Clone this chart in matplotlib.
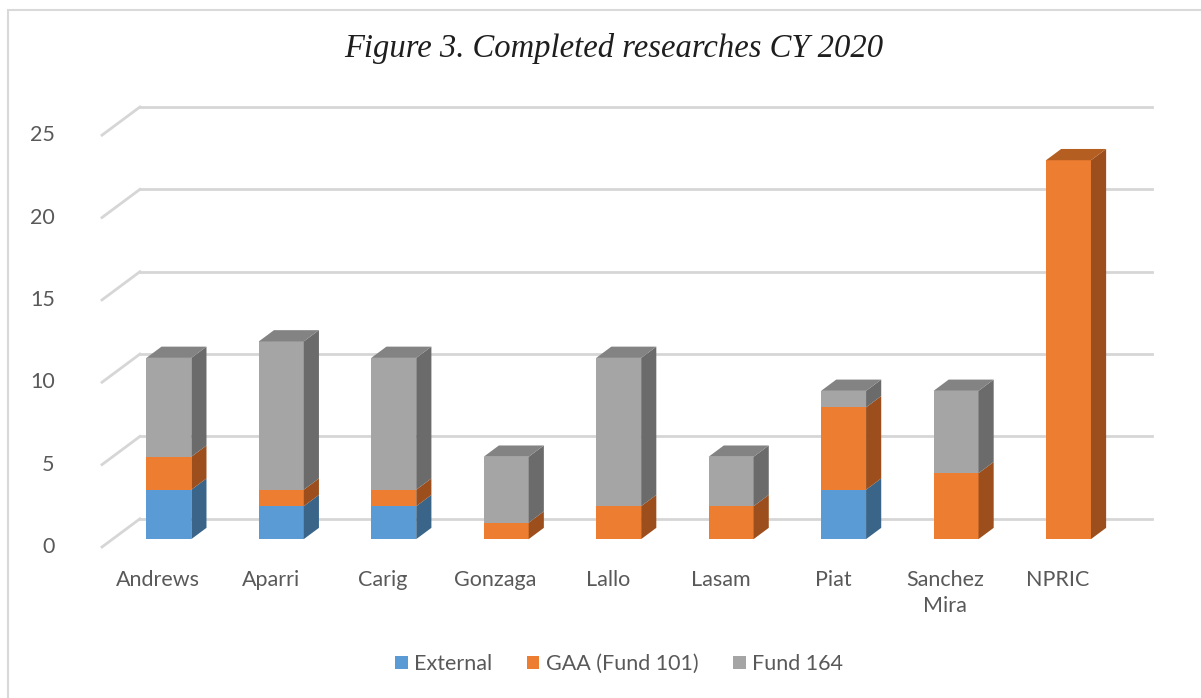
import numpy as np
import matplotlib.pyplot as plt
from matplotlib.patches import Polygon, Rectangle

# data
campuses = ['Andrews', 'Aparri', 'Carig', 'Gonzaga', 'Lallo', 'Lasam', 'Piat',
            'Sanchez\nMira', 'NPRIC']
external = [3, 2, 2, 0, 0, 0, 3, 0, 0]
gaa = [2, 1, 1, 1, 2, 2, 5, 4, 23]
fund164 = [6, 9, 8, 4, 9, 3, 1, 5, 0]
series = [('External', external), ('GAA (Fund 101)', gaa), ('Fund 164', fund164)]

front = ['#5B9BD5', '#ED7D31', '#A5A5A5']
side = ['#3A6589', '#9C4F1D', '#6B6B6B']
top = ['#4A7FB0', '#B45E22', '#838383']

# oblique depth vector (category units, value units)
DX, DY = 0.337, 1.71
f0, f1 = 0.28, 0.68   # bar front / back as fraction of floor depth
width = 0.4
n = len(campuses)

fig = plt.figure(figsize=(12.01, 6.98), dpi=100)
ax = fig.add_axes([102/1201, 1-547/698, (1152-102)/1201, (547-107)/698])
ax.set_xlim(-0.5, n - 0.5 + DX)
ax.set_ylim(0, 25 + DY)
ax.axis('off')

# back wall gridlines + floor diagonals
for v in range(0, 26, 5):
    ax.plot([-0.5 + DX, n - 0.5 + DX], [v + DY, v + DY], color='#d6d6d6', lw=2,
            clip_on=False, zorder=1)
    ax.plot([-0.5, -0.5 + DX], [v, v + DY], color='#d6d6d6', lw=2,
            clip_on=False, zorder=1)
    ax.text(-0.5 - 0.42, v, str(v), ha='right', va='center', fontsize=15.5,
            color='#595959', family='Lato')

ox, oy = f0 * DX, f0 * DY
bx, by = (f1 - f0) * DX, (f1 - f0) * DY
x = np.arange(n)
bottom = np.zeros(n)
totals = np.array(external) + np.array(gaa) + np.array(fund164)
for k, (name, vals) in enumerate(series):
    vals = np.array(vals, dtype=float)
    ax.bar(x + ox, vals, width=width, bottom=bottom + oy, color=front[k],
           zorder=3, label=name)
    for i in range(n):
        if vals[i] == 0:
            continue
        xr = x[i] + ox + width / 2
        xl = x[i] + ox - width / 2
        y0 = bottom[i] + oy
        y1 = y0 + vals[i]
        ax.add_patch(Polygon([(xr, y0), (xr + bx, y0 + by), (xr + bx, y1 + by), (xr, y1)],
                             closed=True, color=side[k], zorder=3, lw=0))
        if bottom[i] + vals[i] == totals[i]:
            ax.add_patch(Polygon([(xl, y1), (xr, y1), (xr + bx, y1 + by), (xl + bx, y1 + by)],
                                 closed=True, color=top[k], zorder=3, lw=0))
    bottom += vals

for i, c in enumerate(campuses):
    ax.text(i, -1.4, c, ha='center', va='top', fontsize=15.5, color='#595959',
            family='Lato', linespacing=1.35)

fig.text(614/1201, 1-48/698, 'Figure 3. Completed researches CY 2020', ha='center',
         va='center', fontsize=23.5, style='italic', family='Liberation Serif',
         color='#1e1e1e')

leg = fig.legend(loc='center', bbox_to_anchor=(619/1201, 1-664/698), ncol=3,
                 frameon=False, fontsize=15.5, handlelength=0.6, handleheight=0.6,
                 handletextpad=0.3, columnspacing=1.6)
for t in leg.get_texts():
    t.set_color('#595959')
    t.set_family('Lato')

# chart border
fig.patches.append(Rectangle((8/1201, -0.1), 1.2, 1 - 10/698 + 0.1,
                             transform=fig.transFigure, fill=False,
                             edgecolor='#d9d9d9', lw=1.5))

fig.savefig('out.png', dpi=100)
